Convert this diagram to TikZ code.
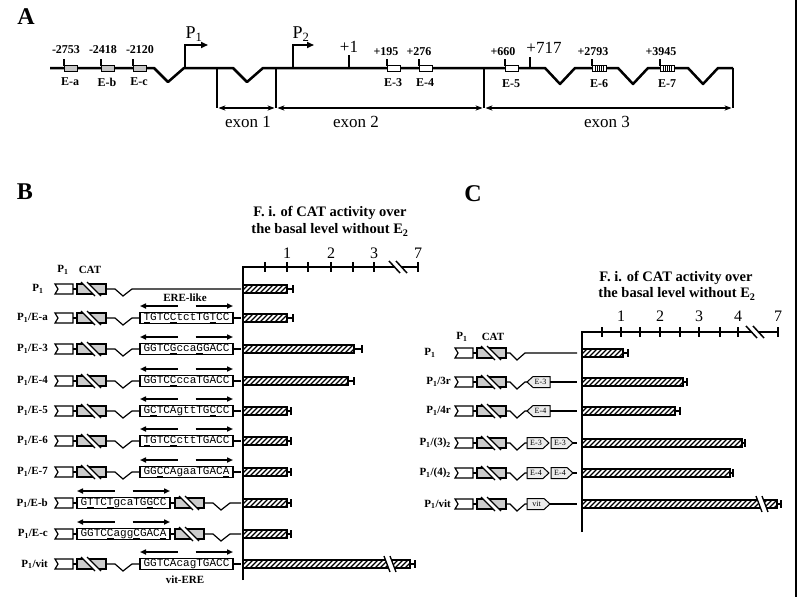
\documentclass[tikz,border=0pt]{standalone}
\usepackage{fontspec}
\setmainfont{Liberation Serif}
\setmonofont{Liberation Mono}
\usetikzlibrary{arrows.meta}
\tikzset{
 lab/.style={font=\bfseries\fontsize{11}{11}\selectfont, inner sep=0},
 num/.style={font=\bfseries\fontsize{12}{12}\selectfont, inner sep=0},
 big/.style={font=\fontsize{17}{17}\selectfont, inner sep=0},
 panel/.style={font=\bfseries\fontsize{24}{24}\selectfont, inner sep=0},
 ttl/.style={font=\bfseries\fontsize{14.5}{14.5}\selectfont, inner sep=0},
 axnum/.style={font=\fontsize{16}{16}\selectfont, inner sep=0},
 seqbox/.style={draw, line width=1.2pt, fill=white, minimum width=93pt, minimum height=11pt, inner sep=0, font=\ttfamily\fontsize{11}{11}\selectfont},
 pentlab/.style={font=\fontsize{8}{8}\selectfont, inner sep=0},
 erearr/.style={line width=1.5pt, -{Triangle[length=6pt,width=5pt]}},
 wire/.style={line width=1.2pt},
 atick/.style={line width=1.2pt},
 axisline/.style={line width=1.5pt},
 hatchline/.style={line width=1.3pt},
 ebox/.style={line width=1pt},
}
\newcommand\sqU[1]{\underline{#1}}
\newcommand\Pone{P\textsubscript{1}}
\newcommand\promo[2]{%
 \draw[wire,fill=white] (#1,#2-5) -- (#1+18,#2-5) -- (#1+18,#2+5) -- (#1,#2+5) -- (#1+3,#2) -- cycle;
 \draw[wire] (#1+18,#2) -- (#1+22,#2);}
\newcommand\catb[2]{%
 \draw[wire,fill=gray!40] (#1,#2-5) rectangle (#1+29,#2+5);
 \fill[white] (#1+4,#2-7) -- (#1+10,#2-7) -- (#1+24,#2+7) -- (#1+18,#2+7) -- cycle;
 \draw[wire] (#1+4,#2-7) -- (#1+18,#2+7) (#1+10,#2-7) -- (#1+24,#2+7);}
\newcommand\erearrows[3]{%
 \draw[erearr] ({(#1+#2)/2-9},#3-12) -- (#1,#3-12);
 \draw[erearr] ({(#1+#2)/2+9},#3-12) -- (#2,#3-12);}
\newcommand\rowR[3]{%
 \promo{55}{#1}\catb{77}{#1}
 \draw[wire] (106,#1) -- (115,#1) -- (123,#1+7) -- (132,#1) -- (140,#1);
 \node[seqbox] (#2) at (186.5,#1) {#3};
 \draw[wire] (#2.east) -- (241,#1);
 \erearrows{140}{233}{#1}}
\newcommand\rowL[3]{%
 \promo{55}{#1}
 \node[seqbox] (#2) at (123.5,#1) {#3};
 \draw[wire] (#2.east) -- (175,#1);
 \catb{175}{#1}
 \draw[wire] (204,#1) -- (213,#1) -- (221,#1+7) -- (230,#1) -- (241,#1);
 \erearrows{77}{170}{#1}}
\newcommand\rowC[1]{%
 \promo{455}{#1}\catb{477}{#1}
 \draw[wire] (506,#1) -- (510,#1) -- (517,#1+7) -- (525,#1) -- (527,#1);}
\newcommand\pentR[4]{%
 \draw[ebox,fill=gray!15] (#1,#3-5.5) -- (#2-6,#3-5.5) -- (#2,#3) -- (#2-6,#3+5.5) -- (#1,#3+5.5) -- cycle;
 \node[pentlab] at ({(#1+#2)/2-2},#3) {#4};}
\newcommand\pentL[4]{%
 \draw[ebox,fill=gray!15] (#1,#3) -- (#1+6,#3-5.5) -- (#2,#3-5.5) -- (#2,#3+5.5) -- (#1+6,#3+5.5) -- cycle;
 \node[pentlab] at ({(#1+#2)/2+2},#3) {#4};}
\newcommand\cbar[4]{%
 \begin{scope}
 \clip (#1,#2-4) rectangle (#3,#2+4);
 \foreach \hx in {0,5,...,215}{\draw[hatchline] (#1+\hx-8,#2+4) -- (#1+\hx,#2-4);}
 \end{scope}
 \draw[line width=1.2pt] (#1,#2-4) rectangle (#3,#2+4);
 \draw[line width=1.2pt] (#3,#2) -- (#4,#2) (#4,#2-4) -- (#4,#2+4);}
\newcommand\axbreak[2]{%
 \fill[white] (#1-9,#2-6) -- (#1-2,#2-6) -- (#1+9,#2+6) -- (#1+2,#2+6) -- cycle;
 \draw[axisline] (#1-9,#2-6) -- (#1+2,#2+6) (#1-2,#2-6) -- (#1+9,#2+6);}
\newcommand\barbreak[2]{%
 \fill[white] (#1-6,#2-8) -- (#1,#2-8) -- (#1+6,#2+8) -- (#1,#2+8) -- cycle;
 \draw[line width=1.3pt] (#1-6,#2-8) -- (#1,#2+8) (#1,#2-8) -- (#1+6,#2+8);}
\begin{document}
\begin{tikzpicture}[x=1pt,y=-1pt]
\useasboundingbox (0,0) rectangle (798,597);
\draw[line width=2pt] (796,0) -- (796,597);
% ---------------- Panel A ----------------
\node[panel] (pA) at (26,17) {A};
\draw[line width=2.5pt,line join=round] (50,68) -- (154,68) -- (168,82) -- (184,68) -- (233,68) -- (247,82) -- (263,68) -- (545,68) -- (560,84) -- (575,68) -- (618,68) -- (633,84) -- (648,68) -- (688,68) -- (703,84) -- (718,68) -- (733,68);
\foreach \xx in {64,101,133}{\draw[ebox,fill=gray!45] (\xx,65.5) rectangle (\xx+13,71.5);}
\foreach \xx in {387,419,505}{\draw[ebox,fill=white] (\xx,65.5) rectangle (\xx+13,71.5);}
\foreach \xx in {592,660}{\draw[ebox,fill=white] (\xx,65.5) rectangle (\xx+14,71.5);
  \foreach \k in {3,5,...,11}{\draw[line width=0.9pt] (\xx+\k,65.5) -- (\xx+\k,71.5);}}
\foreach \xx in {64,101,133,387,419,505,592,660}{\draw[atick] (\xx,59) -- (\xx,65.5);}
\draw[atick] (349,55) -- (349,68);
\draw[atick] (530,57) -- (530,68);
\node[num] (nEa) at (66,50) {-2753};
\node[num] (nEb) at (103,50) {-2418};
\node[num] (nEc) at (140,50) {-2120};
\node[num] (nE3) at (386,52) {+195};
\node[num] (nE4) at (419,52) {+276};
\node[num] (nE5) at (503,52) {+660};
\node[num] (nE6) at (593,52) {+2793};
\node[num] (nE7) at (661,52) {+3945};
\node[big] (plus1) at (349,47) {+1};
\node[big] (plus717) at (544,48) {+717};
\node[num] (lEa) at (70,82) {E-a};
\node[num] (lEb) at (107,82) {E-b};
\node[num] (lEc) at (139,82) {E-c};
\node[num] (lE3) at (393,83) {E-3};
\node[num] (lE4) at (425,83) {E-4};
\node[num] (lE5) at (511,84) {E-5};
\node[num] (lE6) at (599,84) {E-6};
\node[num] (lE7) at (667,84) {E-7};
\draw[line width=1.6pt,-{Triangle[length=7pt,width=6pt]}] (185,68) |- (208,45);
\draw[line width=1.6pt,-{Triangle[length=7pt,width=6pt]}] (293,68) |- (314,45);
\node[big,font=\fontsize{18}{18}\selectfont] (tP1) at (194,34) {P\textsubscript{1}};
\node[big,font=\fontsize{18}{18}\selectfont] (tP2) at (301,34) {P\textsubscript{2}};
\foreach \xx in {217,276,484,733}{\draw[line width=1.3pt] (\xx,68) -- (\xx,108);}
\draw[line width=1.3pt,{Stealth[length=7pt]}-{Stealth[length=7pt]}] (218.5,108) -- (274.5,108);
\draw[line width=1.3pt,{Stealth[length=7pt]}-{Stealth[length=7pt]}] (277.5,108) -- (482.5,108);
\draw[line width=1.3pt,{Stealth[length=7pt]}-{Stealth[length=7pt]}] (485.5,108) -- (731.5,108);
\node[big] (ex1) at (248,122) {exon 1};
\node[big] (ex2) at (356,122) {exon 2};
\node[big] (ex3) at (607,122) {exon 3};
% ---------------- Panel B ----------------
\node[panel] (pB) at (25,192) {B};
\node[ttl] (tB1) at (330,213) {F. i. of CAT activity over};
\node[ttl] (tB2) at (330,230) {the basal level without E\textsubscript{2}};
\draw[axisline] (243,580) -- (243,267) -- (418,267);
\foreach \xx in {265,287,308,331,353,374,418}{\draw[axisline] (\xx,262) -- (\xx,272);}
\axbreak{398}{267}
\node[axnum] (b1) at (287,253) {1};
\node[axnum] (b2) at (331,253) {2};
\node[axnum] (b3) at (374,253) {3};
\node[axnum] (b7) at (418,253) {7};
\node[lab] (hP1) at (63,270) {\Pone};
\node[lab] (hCAT) at (90,270) {CAT};
\node[lab] (ereL) at (185,298) {ERE-like};
\node[lab] (vitL) at (185,580) {vit-ERE};
% rows
\node[lab] (rB0) at (38,289) {\Pone};
\promo{55}{289}\catb{77}{289}
\draw[wire] (106,289) -- (115,289) -- (123,296) -- (132,289) -- (241,289);
\node[lab,anchor=east] (rB1) at (48,318) {\Pone/E-a};
\rowR{318}{sEa}{\sqU{T}GTC\sqU{C}tctTG\sqU{T}CC}
\node[lab,anchor=east] (rB2) at (48,349) {\Pone/E-3};
\rowR{349}{sE3}{GGTC\sqU{G}cca\sqU{G}GACC}
\node[lab,anchor=east] (rB3) at (48,381) {\Pone/E-4};
\rowR{381}{sE4}{GGTC\sqU{C}ccaTGACC}
\node[lab,anchor=east] (rB4) at (48,411) {\Pone/E-5};
\rowR{411}{sE5}{G\sqU{C}TCAgttTG\sqU{C}CC}
\node[lab,anchor=east] (rB5) at (48,441) {\Pone/E-6};
\rowR{441}{sE6}{\sqU{T}GTC\sqU{C}cttTGACC}
\node[lab,anchor=east] (rB6) at (48,472) {\Pone/E-7};
\rowR{472}{sE7}{GG\sqU{C}CAgaaTGAC\sqU{A}}
\node[lab,anchor=east] (rB7) at (48,503) {\Pone/E-b};
\rowL{503}{sEb}{G\sqU{T}TC\sqU{T}gcaTG\sqU{G}CC}
\node[lab,anchor=east] (rB8) at (48,534) {\Pone/E-c};
\rowL{534}{sEc}{GGTC\sqU{C}agg\sqU{C}GAC\sqU{A}}
\node[lab,anchor=east] (rB9) at (48,564) {\Pone/vit};
\rowR{564}{sVit}{GGTCAcagTGACC}
% bars B
\cbar{243}{289}{287}{293}
\cbar{243}{318}{287}{293}
\cbar{243}{349}{354}{362}
\cbar{243}{381}{348}{354}
\cbar{243}{411}{287}{291}
\cbar{243}{441}{287}{291}
\cbar{243}{472}{287}{291}
\cbar{243}{503}{287}{291}
\cbar{243}{534}{287}{291}
\cbar{243}{564}{410}{415}
\barbreak{390}{564}
% ---------------- Panel C ----------------
\node[panel] (pC) at (473,194) {C};
\node[ttl] (tC1) at (676,278) {F. i. of CAT activity over};
\node[ttl] (tC2) at (677,294) {the basal level without E\textsubscript{2}};
\draw[axisline] (582,532) -- (582,332) -- (778,332);
\foreach \xx in {602,621,640,660,680,699,720,738,778}{\draw[axisline] (\xx,327) -- (\xx,337);}
\axbreak{755}{332}
\node[axnum] (c1) at (621,316) {1};
\node[axnum] (c2) at (660,316) {2};
\node[axnum] (c3) at (699,316) {3};
\node[axnum] (c4) at (738,316) {4};
\node[axnum] (c7) at (778,316) {7};
\node[lab] (hCP1) at (462,337) {\Pone};
\node[lab] (hCCAT) at (493,337) {CAT};
\node[lab] (rC0) at (430,353) {\Pone};
\promo{455}{353}\catb{477}{353}
\draw[wire] (506,353) -- (510,353) -- (517,360) -- (525,353) -- (577,353);
\node[lab,anchor=east] (rC1) at (451,382) {\Pone/3r};
\rowC{382}\pentL{527}{550}{382}{E-3}\draw[wire] (550,382) -- (577,382);
\node[lab,anchor=east] (rC2) at (451,411) {\Pone/4r};
\rowC{411}\pentL{527}{550}{411}{E-4}\draw[wire] (550,411) -- (577,411);
\node[lab,anchor=east] (rC3) at (451,443) {\Pone/(3)\textsubscript{2}};
\rowC{443}\pentR{527}{549}{443}{E-3}\pentR{551}{573}{443}{E-3}\draw[wire] (573,443) -- (577,443);
\node[lab,anchor=east] (rC4) at (451,473) {\Pone/(4)\textsubscript{2}};
\rowC{473}\pentR{527}{549}{473}{E-4}\pentR{551}{573}{473}{E-4}\draw[wire] (573,473) -- (577,473);
\node[lab,anchor=east] (rC5) at (451,504) {\Pone/vit};
\rowC{504}\pentR{527}{550}{504}{vit}\draw[wire] (550,504) -- (577,504);
% bars C
\cbar{582}{353}{623}{628}
\cbar{582}{382}{683}{687}
\cbar{582}{411}{675}{680}
\cbar{582}{443}{742}{745}
\cbar{582}{473}{730}{733}
\cbar{582}{504}{777}{781}
\barbreak{762}{504}
\end{tikzpicture}
\end{document}
